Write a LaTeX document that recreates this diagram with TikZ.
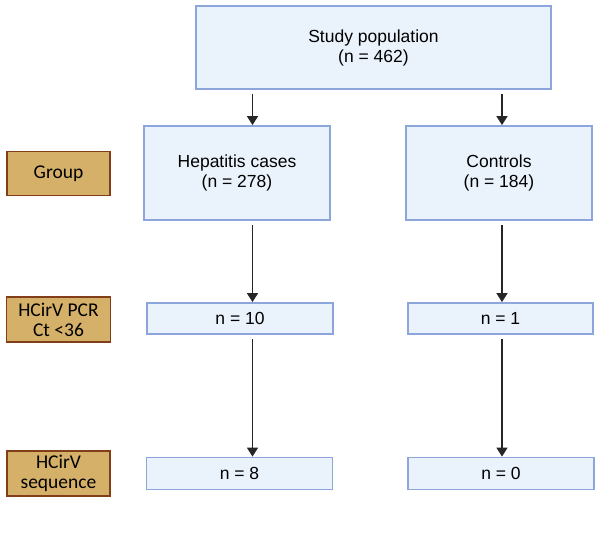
\documentclass[tikz,border=0pt]{standalone}
\usepackage{fontspec}
\setmainfont{Liberation Sans}
\newfontfamily\labelfont{Carlito}
\usepackage{xcolor}
\usetikzlibrary{arrows.meta, positioning, calc}

\definecolor{boxfill}{RGB}{234,242,252}
\definecolor{boxline}{RGB}{140,166,220}
\definecolor{tanfill}{RGB}{213,176,105}
\definecolor{tanline}{RGB}{130,62,25}

\tikzset{
  flowbox/.style={draw=boxline, fill=boxfill, line width=1.8pt, inner sep=0pt,
    align=center, font=\fontsize{17.5}{20}\selectfont},
  stagebox/.style={draw=tanline, fill=tanfill, line width=1.4pt, inner sep=0pt,
    align=center, font=\labelfont\fontsize{19.5}{20}\selectfont},
  flowarrow/.style={-{Triangle[length=9pt, width=11pt]}, line width=1.5pt, black!85}
}

\begin{document}
\begin{tikzpicture}[x=1pt, y=-1pt]
      \useasboundingbox (0,0) rectangle (600,533);

      % Cohort boxes
      \node[flowbox, minimum width=355pt, minimum height=83pt] (pop) at (373.5,47.5) {Study population\\(n = 462)};
      \node[flowbox, minimum width=186pt, minimum height=94pt] (hep) at (237,173) {Hepatitis cases\\(n = 278)};
      \node[flowbox, minimum width=186pt, minimum height=94pt] (ctrl) at (499,173) {Controls\\(n = 184)};

      % PCR results
      \node[flowbox, minimum width=186pt, minimum height=31pt] (hepPcr) at (240,318.5) {n = 10};
      \node[flowbox, minimum width=185pt, minimum height=31pt] (ctrlPcr) at (500.5,318.5) {n = 1};

      % Sequencing results
      \node[flowbox, minimum width=186pt, minimum height=32pt] (hepSeq) at (239.5,473.5) {n = 8};
      \node[flowbox, minimum width=186pt, minimum height=32pt] (ctrlSeq) at (501,473.5) {n = 0};

      % Stage labels on the left
      \node[stagebox, minimum width=103pt, minimum height=44pt] (lblGroup) at (58.5,173.5) {Group};
      \node[stagebox, minimum width=104pt, minimum height=45pt] (lblPcr) at (58.5,319.5) {HCirV PCR\\Ct <36};
      \node[stagebox, minimum width=103pt, minimum height=45pt] (lblSeq) at (58.5,473.5) {HCirV\\sequence};

      % Arrow columns
      \coordinate (colL) at (252.5,0);
      \coordinate (colR) at (502,0);

      \draw[flowarrow, shorten <=4pt] (pop.south -| colL) -- (hep.north -| colL);
      \draw[flowarrow, shorten <=4pt] (pop.south -| colR) -- (ctrl.north -| colR);
      \draw[flowarrow, shorten <=4pt] (hep.south -| colL) -- (hepPcr.north -| colL);
      \draw[flowarrow, shorten <=4pt] (ctrl.south -| colR) -- (ctrlPcr.north -| colR);
      \draw[flowarrow, shorten <=4pt] (hepPcr.south -| colL) -- (hepSeq.north -| colL);
      \draw[flowarrow, shorten <=4pt] (ctrlPcr.south -| colR) -- (ctrlSeq.north -| colR);

    \end{tikzpicture}
\end{document}
